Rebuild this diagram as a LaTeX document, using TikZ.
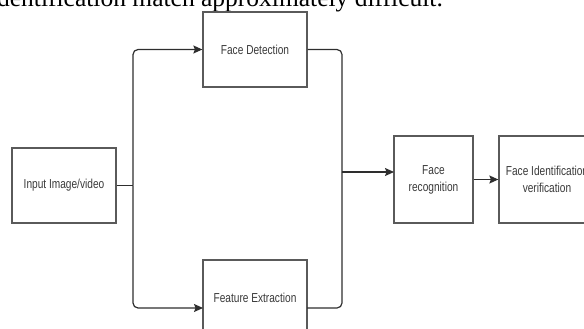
\documentclass[tikz,border=0pt]{standalone}
\usepackage{fontspec}
\setmainfont{Liberation Serif}
\newfontfamily\boxfont[FakeStretch=0.78]{Liberation Sans}
\usetikzlibrary{arrows.meta}
\definecolor{boxline}{HTML}{5A5A5A}
\definecolor{conn}{HTML}{2E2E2E}
\definecolor{boxtext}{HTML}{3A3A3A}
\tikzset{
  stagebox/.style={draw=boxline, line width=1.3pt, fill=white, inner sep=0pt,
    align=center, text=boxtext, font={\boxfont\fontsize{13}{17}\selectfont}},
  link/.style={draw=conn, line width=1.2pt, rounded corners=5pt},
  tolink/.style={link, -{Stealth[length=9pt,width=8pt,inset=1.5pt]}}
}
\begin{document}
\begin{tikzpicture}[x=1pt,y=-1pt]
\useasboundingbox (0,0) rectangle (584,329);
\node[anchor=base east, inner sep=0pt, font=\fontsize{25.5}{30}\selectfont] (top) at (443,6.5) {identification match approximately difficult.};

\node[stagebox, minimum width=104pt, minimum height=75pt] (inp) at (64,185.5) {Input Image/video};
\node[stagebox, minimum width=104pt, minimum height=75pt] (det) at (255,49.5) {Face Detection};
\node[stagebox, minimum width=104pt, minimum height=75pt] (fea) at (255,297.5) {Feature Extraction};
\node[stagebox, minimum width=79pt, minimum height=87pt] (rec) at (433.5,179.5) {Face\\recognition};
\node[stagebox, minimum width=96pt, minimum height=87pt] (ver) at (547,179.5) {Face Identification\\verification};

\coordinate (split) at (133,185.5);
\coordinate (feain) at (203,308);
\coordinate (feaout) at (307,308);
\coordinate (join) at (342,172);
\coordinate (recin) at (394,172);

\draw[link] (inp.east) -- (split);
\draw[tolink] (split) |- (det.west);
\draw[tolink] (split) |- (feain);
\draw[link] (det.east) -| (join);
\draw[link] (feaout) -| (join);
\draw[tolink] (join) -- (recin);
\draw[tolink] (rec.east) -- (ver.west);
\end{tikzpicture}
\end{document}
